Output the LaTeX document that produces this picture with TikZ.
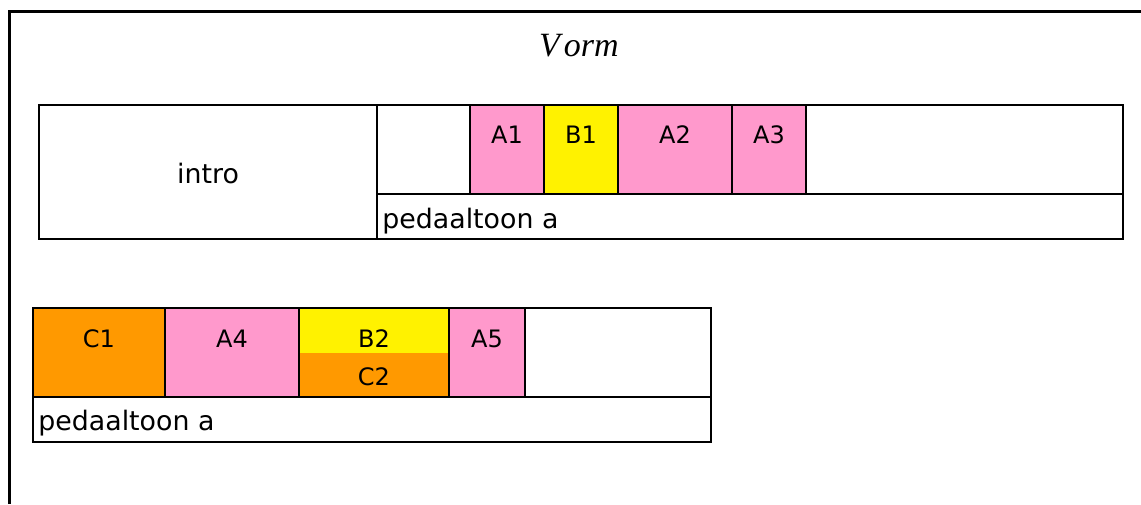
\documentclass[tikz,border=0pt]{standalone}
\usepackage{fontspec}
\setmainfont{DejaVu Sans}
\newfontfamily\tms{Liberation Serif}
\definecolor{pinkc}{HTML}{FF99CC}
\definecolor{yelc}{HTML}{FFF200}
\definecolor{orc}{HTML}{FF9900}
\tikzset{
  cell/.style={draw=black, line width=1.4pt},
  lbl/.style={anchor=base, inner sep=0pt, font=\fontsize{12}{14}\selectfont},
  ped/.style={anchor=base west, inner sep=0pt, font=\fontsize{13.4}{16}\selectfont},
  frame/.style={draw=black, line width=1.5pt}
}
\begin{document}
\begin{tikzpicture}[x=0.5pt, y=-0.5pt]
\useasboundingbox (0,0) rectangle (1141,504);
% outer frame
\draw[frame] (9,504) -- (9,11) -- (1141,11);
\node[anchor=base, inner sep=0pt, font=\fontsize{17}{20}\selectfont\tms\itshape] (title) at (579,56) {V\kern2pt orm};
% top row
\fill[pinkc] (470,105) rectangle (544,194);
\fill[yelc] (544,105) rectangle (618,194);
\fill[pinkc] (618,105) rectangle (806,194);
\draw[cell] (39,105) rectangle (1123,239);
\draw[cell] (377,105) -- (377,239);
\draw[cell] (377,194) -- (1123,194);
\draw[cell] (470,105) -- (470,194);
\draw[cell] (544,105) -- (544,194);
\draw[cell] (618,105) -- (618,194);
\draw[cell] (732,105) -- (732,194);
\draw[cell] (806,105) -- (806,194);
\node[anchor=base, inner sep=0pt, font=\fontsize{13.4}{16}\selectfont] (intro) at (208,183) {intro};
\node[lbl] (A1) at (507,143) {A1};
\node[lbl] (B1) at (581,143) {B1};
\node[lbl] (A2) at (675,143) {A2};
\node[lbl] (A3) at (769,143) {A3};
\node[ped] (ped1) at (382,228) {pedaaltoon a};
% bottom row
\fill[orc] (33,308) rectangle (165,397);
\fill[pinkc] (165,308) rectangle (299,397);
\fill[yelc] (299,308) rectangle (449,353);
\fill[orc] (299,353) rectangle (449,397);
\fill[pinkc] (449,308) rectangle (525,397);
\draw[cell] (33,308) rectangle (711,442);
\draw[cell] (33,397) -- (711,397);
\draw[cell] (165,308) -- (165,397);
\draw[cell] (299,308) -- (299,397);
\draw[cell] (449,308) -- (449,397);
\draw[cell] (525,308) -- (525,397);
\node[lbl] (C1) at (99,347) {C1};
\node[lbl] (A4) at (232,347) {A4};
\node[lbl] (B2) at (374,347) {B2};
\node[lbl] (C2) at (374,385) {C2};
\node[lbl] (A5) at (487,347) {A5};
\node[ped] (ped2) at (38,430) {pedaaltoon a};
\end{tikzpicture}
\end{document}
